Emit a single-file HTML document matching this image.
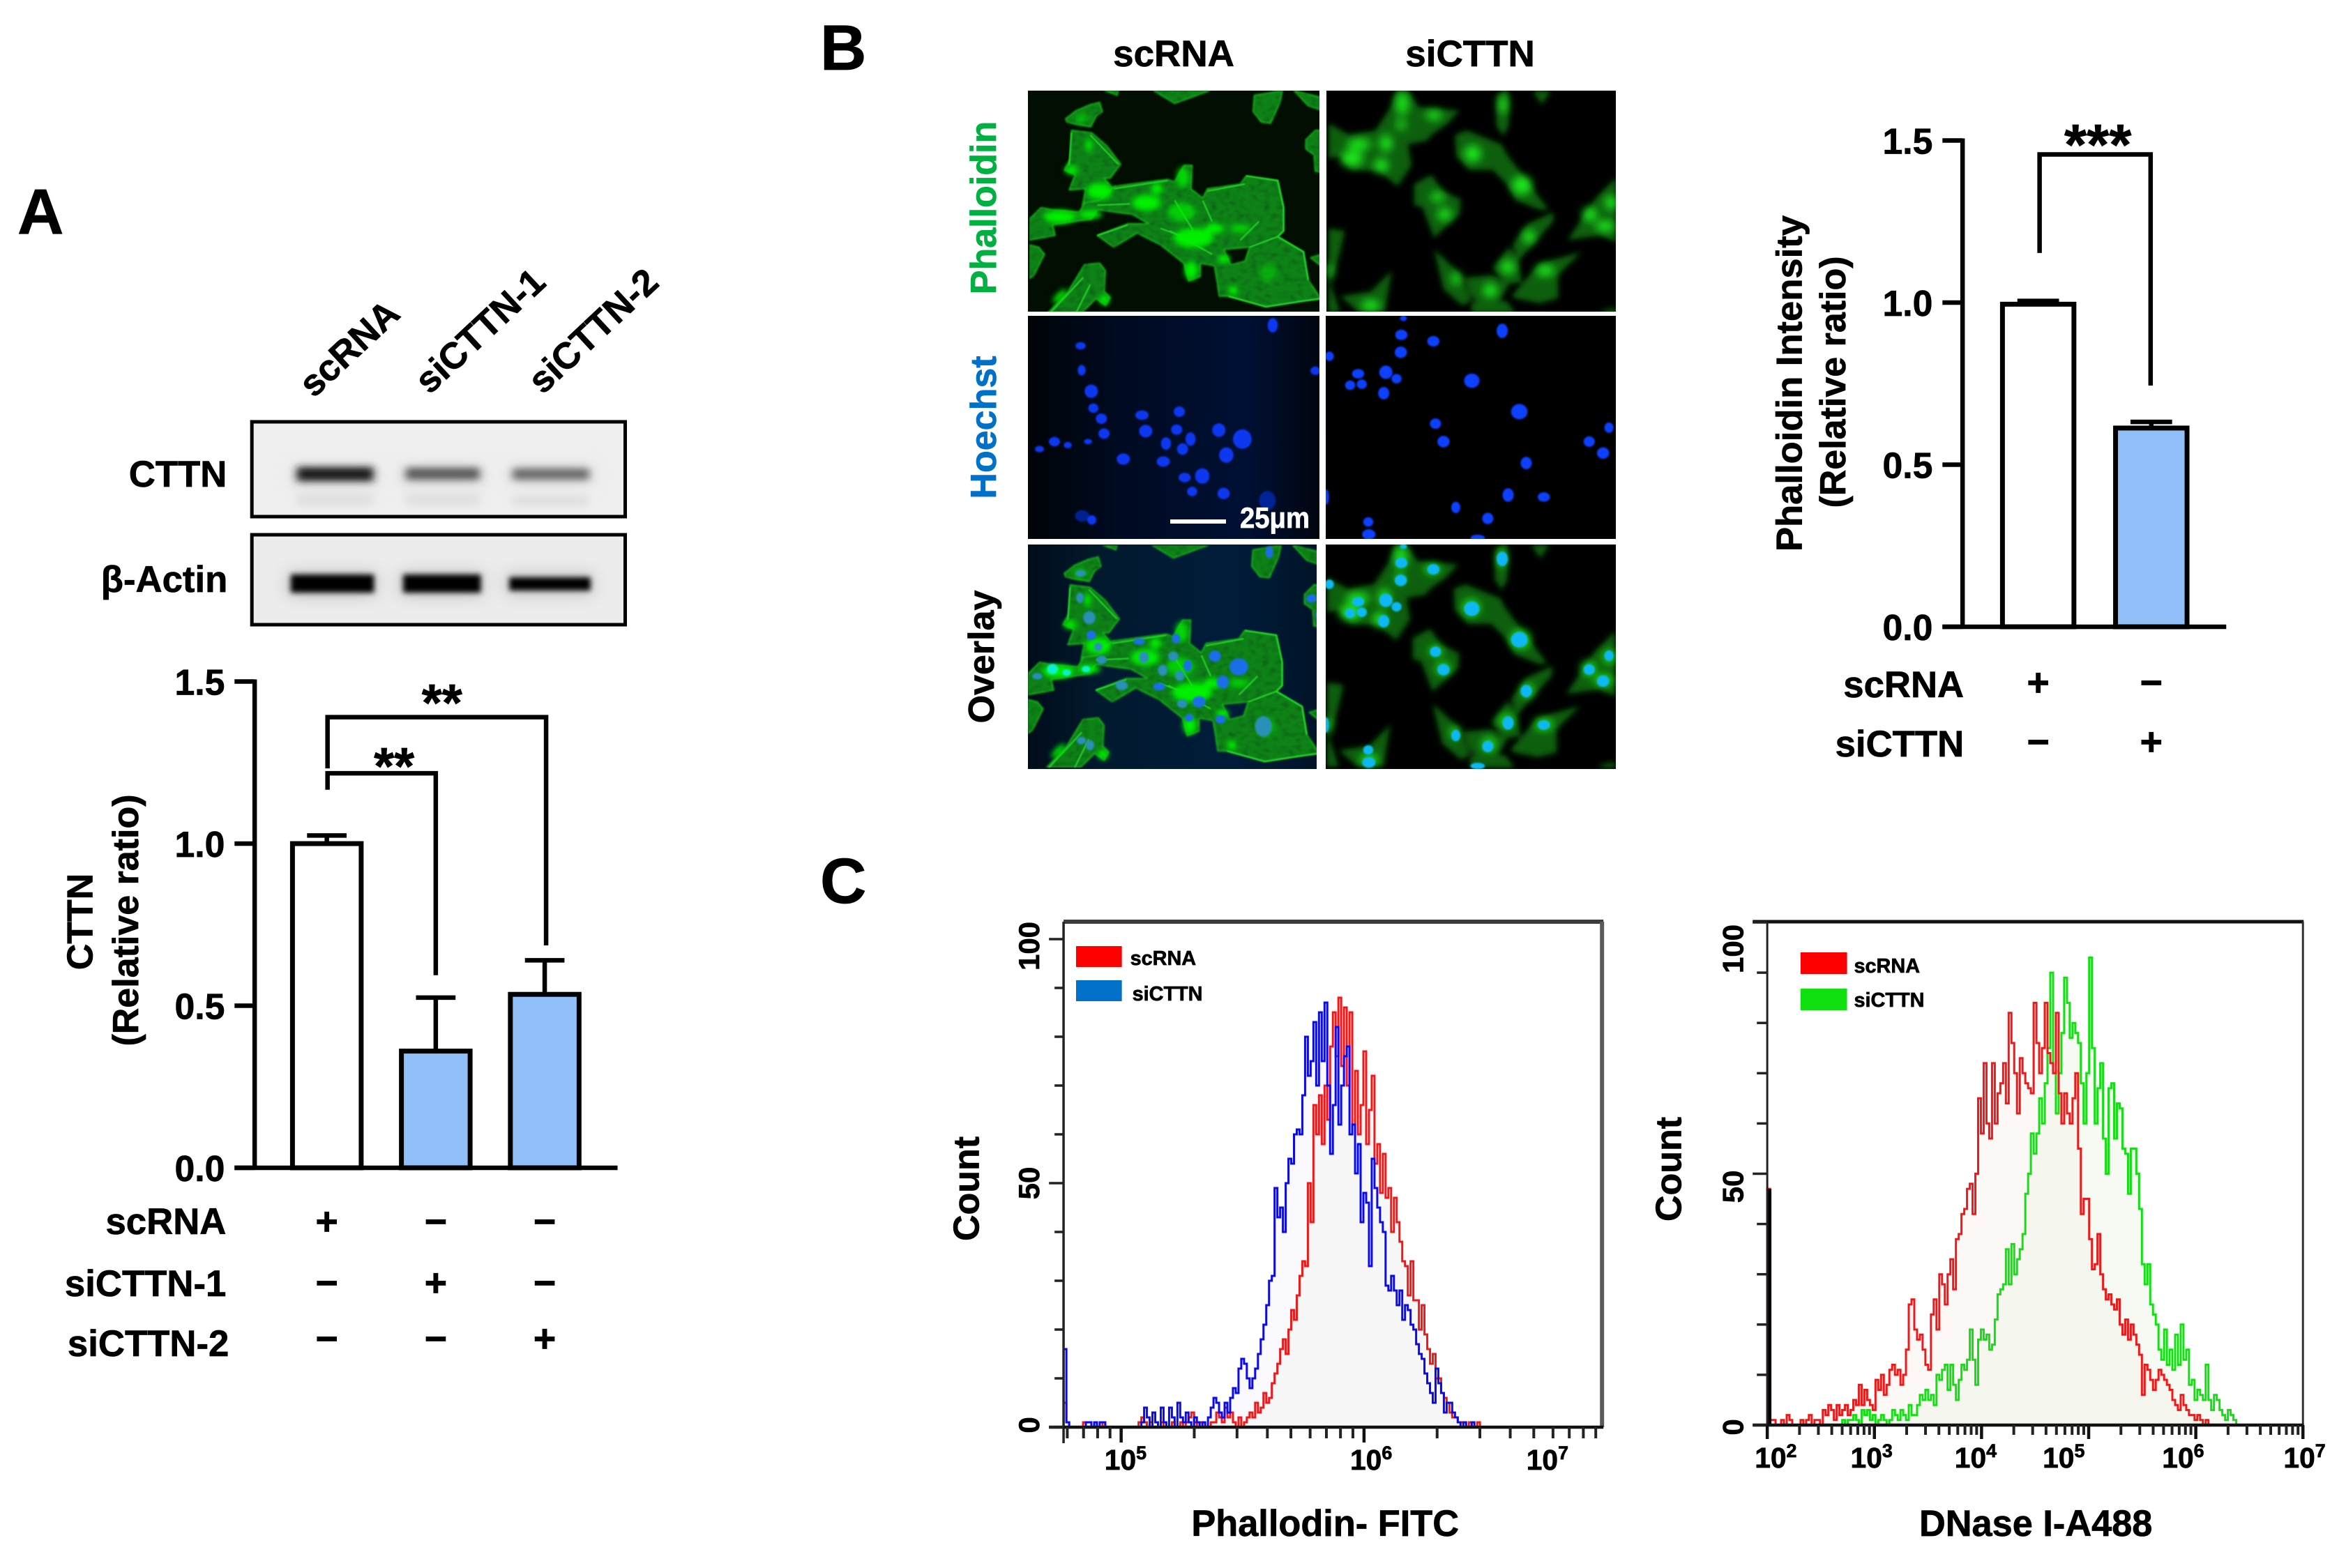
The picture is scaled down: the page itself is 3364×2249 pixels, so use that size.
<!DOCTYPE html>
<html lang="en">
<head>
<meta charset="utf-8">
<title>CTTN knockdown figure</title>
<style>
html,body{margin:0;padding:0;background:#fff;width:3364px;height:2249px;overflow:hidden}
svg{display:block}
text{font-family:"Liberation Sans",sans-serif;font-weight:bold;fill:#000;stroke:#000;stroke-width:.7px}
</style>
</head>
<body>
<svg id="figure" xmlns="http://www.w3.org/2000/svg" width="3364" height="2249" viewBox="0 0 3364 2249">
<defs>
  <filter id="blur-band-a" x="-20%" y="-120%" width="140%" height="340%"><feGaussianBlur stdDeviation="6 5"/></filter>
  <filter id="blur-band-b" x="-20%" y="-120%" width="140%" height="340%"><feGaussianBlur stdDeviation="4 4"/></filter>
  <filter id="blur-halo" x="-20%" y="-120%" width="140%" height="340%"><feGaussianBlur stdDeviation="12 12"/></filter>
  <filter id="blur-soft" x="-30%" y="-30%" width="160%" height="160%"><feGaussianBlur stdDeviation="12"/></filter>
  <filter id="blur-base" x="-10%" y="-10%" width="120%" height="120%"><feGaussianBlur stdDeviation="12"/></filter>
  <filter id="blur-glow" x="-30%" y="-30%" width="160%" height="160%"><feGaussianBlur stdDeviation="19"/></filter>
  <filter id="blur-line" x="-10%" y="-10%" width="120%" height="120%"><feGaussianBlur stdDeviation="2.2"/></filter>
  <filter id="blur-nuc" x="-30%" y="-30%" width="160%" height="160%"><feGaussianBlur stdDeviation="1.4"/></filter>
  <filter id="blur-nuc-large" x="-30%" y="-30%" width="160%" height="160%"><feGaussianBlur stdDeviation="4"/></filter>
  <filter id="cell-texture" x="0" y="0" width="100%" height="100%">
    <feTurbulence type="fractalNoise" baseFrequency="0.035 0.055" numOctaves="3" seed="9" result="n"/>
    <feColorMatrix in="n" type="matrix" values="0 0 0 0 1  0 1.7 0 0 0.05  0 0 0 0 1  0 0 0 0 1" result="g"/>
    <feComposite in="SourceGraphic" in2="g" operator="arithmetic" k1="1.0" k2="0.45" k3="0" k4="0"/>
    <feGaussianBlur stdDeviation="4"/>
  </filter>
  <linearGradient id="hoechst-bg" x1="0" x2="1" y1="0" y2="0">
    <stop offset="0" stop-color="#000408"/><stop offset=".3" stop-color="#000a20"/><stop offset=".75" stop-color="#001034"/><stop offset="1" stop-color="#00050f"/>
  </linearGradient>
  <linearGradient id="overlay-bg" x1="0" x2="1" y1="0" y2="0">
    <stop offset="0" stop-color="#000c1a"/><stop offset=".25" stop-color="#021a2e"/><stop offset=".7" stop-color="#001c3a"/><stop offset="1" stop-color="#001428"/>
  </linearGradient>
  <clipPath id="clip-r1c1"><rect x="1474" y="130" width="418" height="317"/></clipPath>
  <clipPath id="clip-r1c2"><rect x="1902" y="130" width="415" height="317"/></clipPath>
  <clipPath id="clip-r2c1"><rect x="1474" y="453" width="418" height="320"/></clipPath>
  <clipPath id="clip-r2c2"><rect x="1901" y="453" width="416" height="320"/></clipPath>
  <clipPath id="clip-r3c1"><rect x="1474" y="781" width="414" height="322"/></clipPath>
  <clipPath id="clip-r3c2"><rect x="1901" y="781" width="416" height="322"/></clipPath>

  <g id="cells-scrna">
    <g fill="#0a6e0e" fill-rule="evenodd" stroke="#14a018" stroke-width="5" stroke-linejoin="round" filter="url(#cell-texture)">
      <path d="M155 120 L200 85 L260 60 L300 50 L312 90 L285 110 L262 155 L200 145 L160 135Z"/>
      <path d="M180 170 L265 180 L330 235 L390 315 L345 375 L320 375 L365 430 L300 470 L225 500 L240 420 L170 425 L195 360 L150 340 L175 290Z"/>
      <path d="M0 550 L50 500 L100 510 L215 520 L235 480 L300 470 L360 410 L590 380 L620 390 L660 320 L695 320 L690 420 L740 460 L760 420 L900 400 L925 365 L1060 385 L1085 500 L1085 600 L1060 625 L1170 690 L1190 810 L1245 890 L1170 900 L1010 925 L850 880 L810 880 L800 810 L790 750 L730 740 L730 795 L680 815 L660 740 L560 660 L460 610 L360 670 L290 620 L420 570 L510 570 L440 530 L290 510 L265 550 L160 565 L100 575 L110 620 L0 640Z M830 680 L940 670 L920 730 L860 745Z"/>
      <path d="M80 950 L165 860 L235 745 L300 738 L325 770 L320 860 L345 885 L325 920 L285 890 L225 950Z"/>
      <path d="M0 660 L40 670 L65 700 L20 790 L0 805Z"/>
      <path d="M960 20 L1080 0 L1070 50 L1030 140 L990 135 L955 90Z"/>
      <path d="M1180 210 L1220 170 L1250 170 L1250 350 L1220 345 L1215 275 L1180 250Z"/>
      <path d="M1130 0 L1250 30 L1250 85 L1190 65Z"/>
      <path d="M530 0 L770 0 L620 55Z"/>
      <path d="M320 0 L380 0 L375 20Z"/>
      <path d="M1200 715 L1250 700 L1250 755Z"/>
    </g>
    <g fill="none" stroke="#28d42c" stroke-width="6" filter="url(#blur-line)">
      <path d="M360 420 L590 385"/><path d="M290 490 L430 485"/><path d="M560 590 L700 640"/>
      <path d="M925 365 L1060 385 L1085 500 L1085 600 L1060 625 L1170 690 L1190 810"/>
      <path d="M850 880 L1010 925 L1170 900 L1245 890"/><path d="M90 950 L230 800"/>
      <path d="M200 950 L260 830"/><path d="M420 575 L290 620"/><path d="M760 430 L920 400"/>
      <path d="M940 670 L1060 625"/><path d="M600 600 L780 700"/>
      <path d="M620 470 L700 600"/><path d="M740 470 L780 560"/><path d="M900 640 L980 560"/>
      <path d="M180 180 L170 320"/><path d="M260 190 L380 315"/>
    </g>
    <g fill="#00f000" filter="url(#blur-soft)">
      <ellipse cx="130" cy="540" rx="70" ry="28"/>
      <ellipse cx="260" cy="530" rx="50" ry="18"/>
      <ellipse cx="255" cy="235" rx="14" ry="28"/>
      <ellipse cx="300" cy="430" rx="55" ry="36"/>
      <ellipse cx="500" cy="480" rx="60" ry="34"/>
      <ellipse cx="545" cy="420" rx="24" ry="24"/>
      <ellipse cx="700" cy="630" rx="85" ry="42"/>
      <ellipse cx="790" cy="590" rx="42" ry="22"/>
      <ellipse cx="650" cy="520" rx="60" ry="40" opacity=".7"/>
      <ellipse cx="690" cy="770" rx="28" ry="38"/>
      <ellipse cx="830" cy="720" rx="26" ry="18"/>
      <ellipse cx="870" cy="855" rx="20" ry="20"/>
      <ellipse cx="180" cy="340" rx="28" ry="18"/>
      <ellipse cx="655" cy="370" rx="26" ry="44" opacity=".8"/>
      <ellipse cx="900" cy="590" rx="45" ry="16" opacity=".8"/>
      <ellipse cx="1020" cy="780" rx="36" ry="42" opacity=".4"/>
      <ellipse cx="320" cy="895" rx="22" ry="20"/>
      <ellipse cx="130" cy="880" rx="40" ry="14" transform="rotate(-45 130 880)"/>
      <ellipse cx="225" cy="120" rx="30" ry="22" opacity=".5"/>
    </g>
  </g>

  <g id="cells-sicttn">
    <g fill="#085e0a" filter="url(#blur-base)">
      <path d="M0 140 L90 190 L200 170 L260 80 L290 0 L340 0 L385 70 L560 85 L510 140 L440 190 L420 215 L340 230 L355 320 L295 410 L215 345 L100 340 L50 280 L0 290Z"/>
      <path d="M720 20 L745 0 L770 0 L770 150 L745 195 L715 150Z"/>
      <path d="M540 190 L590 170 L740 230 L760 270 L940 510 L900 510 L800 470 L760 400 L700 340 L600 340 L545 280Z"/>
      <path d="M365 400 L440 360 L490 430 L565 465 L560 530 L450 630 L400 500 L365 490Z"/>
      <path d="M785 660 L850 570 L960 520 L960 560 L880 650 L810 730Z"/>
      <path d="M1020 640 L1140 460 L1230 370 L1230 650 L1160 620Z"/>
      <path d="M700 760 L770 670 L810 720 L825 820 L760 830Z"/>
      <path d="M580 800 L700 790 L770 830 L730 900 L640 910 L600 870Z"/>
      <path d="M780 880 L900 740 L1080 690 L980 790 L980 890 L900 910 L800 890Z"/>
      <path d="M450 680 L560 780 L610 900 L570 920 L490 850Z"/>
      <path d="M610 905 L760 900 L800 955 L610 955Z"/>
      <path d="M50 880 L180 860 L270 770 L240 950 L130 950Z"/>
      <path d="M0 590 L70 600 L50 690 L10 830 L50 950 L0 950Z"/>
      <path d="M870 0 L950 0 L910 60Z"/>
      <path d="M1170 940 L1230 930 L1230 955 L1160 955Z"/>
    </g>
    <g fill="#1ee81e" filter="url(#blur-glow)">
      <ellipse cx="100" cy="290" rx="48" ry="34"/><ellipse cx="245" cy="225" rx="26" ry="36"/><ellipse cx="225" cy="320" rx="30" ry="30"/>
      <ellipse cx="315" cy="55" rx="26" ry="50"/><ellipse cx="310" cy="145" rx="18" ry="24"/><ellipse cx="130" cy="230" rx="50" ry="24"/>
      <ellipse cx="450" cy="105" rx="35" ry="20"/><ellipse cx="745" cy="60" rx="18" ry="40"/><ellipse cx="615" cy="270" rx="36" ry="36"/>
      <ellipse cx="825" cy="405" rx="42" ry="40"/><ellipse cx="465" cy="455" rx="30" ry="20"/><ellipse cx="495" cy="530" rx="30" ry="26"/>
      <ellipse cx="855" cy="625" rx="26" ry="30"/><ellipse cx="1205" cy="480" rx="26" ry="30"/><ellipse cx="1115" cy="530" rx="30" ry="30"/>
      <ellipse cx="1180" cy="580" rx="40" ry="24"/><ellipse cx="925" cy="770" rx="40" ry="24"/><ellipse cx="765" cy="755" rx="30" ry="30"/>
      <ellipse cx="690" cy="855" rx="30" ry="30"/><ellipse cx="545" cy="805" rx="20" ry="26"/><ellipse cx="180" cy="920" rx="40" ry="24"/>
      <ellipse cx="5" cy="770" rx="12" ry="30"/>
    </g>
  </g>

  <g id="nuclei-scrna" fill="currentColor" stroke="currentColor" stroke-width="3" filter="url(#blur-nuc)">
    <ellipse cx="522" cy="693" rx="8" ry="6"/><ellipse cx="524" cy="742" rx="6" ry="9"/><ellipse cx="542" cy="784" rx="11" ry="12"/><ellipse cx="546" cy="818" rx="8" ry="8"/><ellipse cx="561" cy="839" rx="9" ry="9"/><ellipse cx="566" cy="869" rx="9" ry="9"/><ellipse cx="536" cy="885" rx="6" ry="4"/><ellipse cx="498" cy="892" rx="6" ry="5"/><ellipse cx="473" cy="885" rx="9" ry="8"/><ellipse cx="445" cy="900" rx="7" ry="5"/><ellipse cx="637" cy="832" rx="11" ry="8"/><ellipse cx="644" cy="864" rx="11" ry="11"/><ellipse cx="707" cy="825" rx="9" ry="9"/><ellipse cx="702" cy="861" rx="9" ry="9"/><ellipse cx="728" cy="880" rx="8" ry="12"/><ellipse cx="682" cy="889" rx="8" ry="11"/><ellipse cx="713" cy="900" rx="9" ry="10"/><ellipse cx="602" cy="920" rx="11" ry="10"/><ellipse cx="677" cy="925" rx="11" ry="9"/><ellipse cx="781" cy="862" rx="11" ry="12"/><ellipse cx="825" cy="880" rx="16" ry="18"/><ellipse cx="795" cy="912" rx="12" ry="14"/><ellipse cx="717" cy="957" rx="10" ry="8"/><ellipse cx="750" cy="954" rx="12" ry="14"/><ellipse cx="731" cy="985" rx="8" ry="8"/><ellipse cx="790" cy="989" rx="10" ry="10"/><ellipse cx="872" cy="1003" rx="14" ry="18" opacity=".55"/><ellipse cx="525" cy="1034" rx="12" ry="10" opacity=".55"/><ellipse cx="543" cy="1042" rx="7" ry="8"/><ellipse cx="882" cy="652" rx="8" ry="13"/><ellipse cx="962" cy="743" rx="8" ry="7"/>
  </g>
  <g id="nuclei-sicttn" fill="currentColor" stroke="currentColor" stroke-width="3" filter="url(#blur-nuc)">
    <ellipse cx="1127" cy="638" rx="5" ry="4"/><ellipse cx="1123" cy="671" rx="10" ry="9"/><ellipse cx="1183" cy="684" rx="10" ry="9"/><ellipse cx="1312" cy="663" rx="9" ry="13"/><ellipse cx="988" cy="714" rx="7" ry="8"/><ellipse cx="1122" cy="706" rx="10" ry="10"/><ellipse cx="1042" cy="749" rx="10" ry="8"/><ellipse cx="1094" cy="746" rx="11" ry="12"/><ellipse cx="1114" cy="759" rx="8" ry="8"/><ellipse cx="1027" cy="772" rx="8" ry="8"/><ellipse cx="1049" cy="770" rx="8" ry="8"/><ellipse cx="1090" cy="788" rx="9" ry="11"/><ellipse cx="1255" cy="763" rx="13" ry="13"/><ellipse cx="1344" cy="825" rx="14" ry="14"/><ellipse cx="1187" cy="849" rx="9" ry="9"/><ellipse cx="1202" cy="885" rx="10" ry="10"/><ellipse cx="1512" cy="857" rx="7" ry="9"/><ellipse cx="1475" cy="885" rx="9" ry="9"/><ellipse cx="1501" cy="908" rx="10" ry="10"/><ellipse cx="1357" cy="928" rx="9" ry="11"/><ellipse cx="1323" cy="992" rx="9" ry="12"/><ellipse cx="1390" cy="996" rx="10" ry="8"/><ellipse cx="1225" cy="1017" rx="7" ry="10"/><ellipse cx="1285" cy="1039" rx="9" ry="10"/><ellipse cx="1061" cy="1046" rx="8" ry="8"/><ellipse cx="1062" cy="1071" rx="11" ry="9"/><ellipse cx="982" cy="996" rx="4" ry="14"/><ellipse cx="1266" cy="1078" rx="12" ry="5"/>
  </g>
</defs>

<rect width="3364" height="2249" fill="#fff"/>

<!-- PANEL A -->
<text x="25" y="335" font-size="92">A</text>
<g transform="scale(.995 1)">
<g font-size="53">
  <text transform="translate(452 572) rotate(-43)">scRNA</text>
  <text transform="translate(619 567) rotate(-43)">siCTTN-1</text>
  <text transform="translate(782 567) rotate(-43)">siCTTN-2</text>
</g>
<g>
  <rect x="363" y="605" width="538" height="136" fill="#efefef"/>
  <g filter="url(#blur-halo)" fill="#c9c9c9">
    <rect x="425" y="672" width="115" height="22"/><rect x="582" y="672" width="112" height="20"/><rect x="736" y="672" width="115" height="18"/>
  </g>
  <g filter="url(#blur-band-a)" fill="#e0e0e0">
    <rect x="428" y="708" width="110" height="18"/><rect x="584" y="708" width="108" height="18"/><rect x="738" y="710" width="110" height="16"/>
  </g>
  <g filter="url(#blur-band-a)">
    <rect x="428" y="670" width="110" height="20" fill="#1c1c1c"/>
    <rect x="585" y="671" width="106" height="17" fill="#5c5c5c"/>
    <rect x="739" y="672" width="110" height="16" fill="#6a6a6a"/>
  </g>
  <rect x="363" y="605" width="538" height="136" fill="none" stroke="#000" stroke-width="5"/>
</g>
<g>
  <rect x="363" y="767" width="538" height="129" fill="#ececec"/>
  <g filter="url(#blur-halo)" fill="#bdbdbd">
    <rect x="415" y="822" width="127" height="32"/><rect x="577" y="822" width="119" height="32"/><rect x="730" y="824" width="124" height="28"/>
  </g>
  <g filter="url(#blur-band-b)" fill="#000">
    <rect x="419" y="824" width="120" height="26"/><rect x="581" y="824" width="112" height="26"/><rect x="734" y="828" width="117" height="19"/>
  </g>
  <rect x="363" y="767" width="538" height="129" fill="none" stroke="#000" stroke-width="5"/>
</g>
<text x="327" y="698" font-size="53" text-anchor="end">CTTN</text>
<text x="328" y="849" font-size="53" text-anchor="end">β-Actin</text>

<g id="chart-a"></g>
<text transform="translate(133 1322) rotate(-90)" font-size="52" text-anchor="middle">CTTN</text>
<text transform="translate(199 1320) rotate(-90)" font-size="52" text-anchor="middle">(Relative ratio)</text>
<g font-size="53" text-anchor="end">
  <text x="326" y="1770">scRNA</text>
  <text x="326" y="1859">siCTTN-1</text>
  <text x="330" y="1945">siCTTN-2</text>
</g>
</g>

<!-- PANEL B -->
<text x="1176" y="100" font-size="92">B</text>
<text x="1683" y="95" font-size="53" text-anchor="middle">scRNA</text>
<text x="2108" y="95" font-size="53" text-anchor="middle">siCTTN</text>
<text transform="translate(1428 298) rotate(-90)" font-size="52" text-anchor="middle" style="fill:#00b040;stroke:#00b040">Phalloidin</text>
<text transform="translate(1428 613) rotate(-90)" font-size="52" text-anchor="middle" style="fill:#0070c8;stroke:#0070c8">Hoechst</text>
<text transform="translate(1425 942) rotate(-90)" font-size="52" text-anchor="middle">Overlay</text>

<g>
  <g clip-path="url(#clip-r1c1)">
    <rect x="1474" y="130" width="418" height="317" fill="#010e01"/>
    <g transform="translate(1476 130) scale(.336 .3351)"><use href="#cells-scrna"/></g>
  </g>
  <g clip-path="url(#clip-r1c2)">
    <rect x="1902" y="130" width="415" height="317" fill="#000"/>
    <g transform="translate(1905 130) scale(.336 .3351)"><use href="#cells-sicttn"/></g>
  </g>
  <g clip-path="url(#clip-r2c1)">
    <rect x="1474" y="453" width="418" height="320" fill="url(#hoechst-bg)"/>
    <g transform="translate(1150 0) scale(.7653 .7157)"><use href="#nuclei-scrna" style="color:#0a38f0"/></g>
  </g>
  <g clip-path="url(#clip-r2c2)">
    <rect x="1901" y="453" width="416" height="320" fill="#000"/>
    <g transform="translate(1150 0) scale(.7653 .7157)"><use href="#nuclei-sicttn" style="color:#0a40ff"/></g>
  </g>
  <g clip-path="url(#clip-r3c1)">
    <rect x="1474" y="781" width="414" height="322" fill="url(#overlay-bg)"/>
    <g transform="translate(1474 782) scale(.336 .3354)">
      <use href="#cells-scrna"/>
      <g filter="url(#blur-nuc-large)">
        <g fill="#1a6ee8">
          <ellipse cx="632" cy="400" rx="18" ry="20"/><ellipse cx="475" cy="412" rx="24" ry="14"/><ellipse cx="682" cy="515" rx="18" ry="24"/><ellipse cx="560" cy="605" rx="26" ry="16"/><ellipse cx="730" cy="670" rx="28" ry="24"/><ellipse cx="688" cy="738" rx="18" ry="16"/><ellipse cx="822" cy="745" rx="22" ry="18"/><ellipse cx="832" cy="585" rx="26" ry="28"/><ellipse cx="798" cy="475" rx="26" ry="24"/><ellipse cx="900" cy="520" rx="40" ry="36"/><ellipse cx="1030" cy="30" rx="16" ry="26"/><ellipse cx="1210" cy="228" rx="22" ry="18"/><ellipse cx="1238" cy="300" rx="12" ry="20"/><ellipse cx="270" cy="385" rx="20" ry="20"/>
        </g>
        <g fill="#2a90b8">
          <ellipse cx="225" cy="120" rx="22" ry="14"/><ellipse cx="222" cy="225" rx="16" ry="22"/><ellipse cx="262" cy="310" rx="26" ry="28"/><ellipse cx="300" cy="435" rx="18" ry="18"/><ellipse cx="315" cy="490" rx="22" ry="18"/><ellipse cx="40" cy="560" rx="22" ry="14"/><ellipse cx="495" cy="480" rx="22" ry="24"/><ellipse cx="620" cy="475" rx="22" ry="20"/><ellipse cx="575" cy="535" rx="20" ry="24"/><ellipse cx="648" cy="558" rx="20" ry="22"/><ellipse cx="400" cy="600" rx="26" ry="20"/><ellipse cx="658" cy="678" rx="22" ry="18"/><ellipse cx="1005" cy="775" rx="36" ry="44"/><ellipse cx="228" cy="835" rx="20" ry="16"/><ellipse cx="265" cy="855" rx="18" ry="22"/>
        </g>
        <g fill="#10f0d0">
          <ellipse cx="105" cy="530" rx="24" ry="22"/><ellipse cx="165" cy="545" rx="18" ry="14"/><ellipse cx="248" cy="530" rx="18" ry="14"/>
        </g>
      </g>
    </g>
  </g>
  <g clip-path="url(#clip-r3c2)">
    <rect x="1901" y="781" width="416" height="322" fill="#000"/>
    <g transform="translate(1903 781) scale(.336 .3354)"><use href="#cells-sicttn"/></g>
    <g transform="translate(1150 0) scale(.7653 .7157)"><use href="#nuclei-sicttn" y="457" style="color:#10b8f4"/></g>
  </g>
</g>
<rect x="1678" y="745" width="80" height="6" fill="#fff"/>
<text x="1778" y="757" font-size="42" textLength="100" lengthAdjust="spacingAndGlyphs" style="fill:#fff;stroke:#fff">25μm</text>

<g transform="translate(2450 0) scale(.995 1) translate(-2450 0)">
<g id="chart-b"></g>
<text transform="translate(2584 550) rotate(-90)" font-size="52.6" text-anchor="middle">Phalloidin Intensity</text>
<text transform="translate(2647 548) rotate(-90)" font-size="52" text-anchor="middle">(Relative ratio)</text>
<g font-size="53" text-anchor="end">
  <text x="2818" y="1000">scRNA</text>
  <text x="2818" y="1085">siCTTN</text>
</g>
</g>

<!-- PANEL C -->
<text x="1176" y="1295" font-size="92">C</text>

<g transform="translate(1340 0) scale(.995 1) translate(-1340 0)">
<g id="hist-left"></g>
<g font-size="42" text-anchor="middle">
  <text transform="translate(1491 1357) rotate(-90)">100</text>
  <text transform="translate(1491 1697) rotate(-90)">50</text>
  <text transform="translate(1491 2044) rotate(-90)">0</text>
</g>
<g font-size="41">
  <text x="1585" y="2108">10<tspan font-size="27" dy="-15">5</tspan></text>
  <text x="1939" y="2108">10<tspan font-size="27" dy="-15">6</tspan></text>
  <text x="2193" y="2108">10<tspan font-size="27" dy="-15">7</tspan></text>
</g>
<text transform="translate(1404 1705) rotate(-90)" font-size="52" text-anchor="middle">Count</text>
<text x="1903" y="2203" font-size="52.6" text-anchor="middle">Phallodin- FITC</text>
<g>
  <rect x="1544" y="1357" width="66" height="30" fill="#ff0000"/>
  <rect x="1544" y="1406" width="66" height="30" fill="#0070c8"/>
  <text x="1622" y="1384" font-size="29">scRNA</text>
  <text x="1625" y="1435" font-size="29">siCTTN</text>
</g>
</g>

<g transform="translate(2360 0) scale(.995 1) translate(-2360 0)">
<g id="hist-right"></g>
<g font-size="42" text-anchor="middle">
  <text transform="translate(2500 1361) rotate(-90)">100</text>
  <text transform="translate(2500 1702) rotate(-90)">50</text>
  <text transform="translate(2500 2047) rotate(-90)">0</text>
</g>
<g font-size="41">
  <text x="2517" y="2105">10<tspan font-size="27" dy="-15">2</tspan></text>
  <text x="2655" y="2105">10<tspan font-size="27" dy="-15">3</tspan></text>
  <text x="2805" y="2105">10<tspan font-size="27" dy="-15">4</tspan></text>
  <text x="2932" y="2105">10<tspan font-size="27" dy="-15">5</tspan></text>
  <text x="3104" y="2105">10<tspan font-size="27" dy="-15">6</tspan></text>
  <text x="3279" y="2105">10<tspan font-size="27" dy="-15">7</tspan></text>
</g>
<text transform="translate(2411 1677) rotate(-90)" font-size="52" text-anchor="middle">Count</text>
<text x="2922" y="2203" font-size="52.6" text-anchor="middle">DNase I-A488</text>
<g>
  <rect x="2583" y="1366" width="67" height="31" fill="#ff0000"/>
  <rect x="2583" y="1418" width="67" height="31" fill="#10e010"/>
  <text x="2660" y="1395" font-size="29">scRNA</text>
  <text x="2660" y="1444" font-size="29">siCTTN</text>
</g>
</g>

<script>
// ---- Panel A bar chart data ----
const aCategories = ['scRNA', 'siCTTN-1', 'siCTTN-2'];
const aMeans = [1.0, 0.36, 0.535];
const aErrorTops = [1.025, 0.525, 0.64];
const aFills = ['#ffffff', '#90bff9', '#90bff9'];
const aTickValues = [0, 0.5, 1, 1.5];
const aTickLabels = ['0.0', '0.5', '1.0', '1.5'];
const aSigns = [['+', '−', '−'], ['−', '+', '−'], ['−', '−', '+']];

// ---- Panel B bar chart data ----
const bCategories = ['scRNA', 'siCTTN'];
const bMeans = [0.995, 0.613];
const bErrorTops = [1.005, 0.632];
const bFills = ['#ffffff', '#90bff9'];
const bTickValues = [0, 0.5, 1, 1.5];
const bTickLabels = ['0.0', '0.5', '1.0', '1.5'];
const bSigns = [['+', '−'], ['−', '+']];

// ---- Panel C histogram counts (per fluorescence bin) ----
const fitcRedCounts = [5,1,0,0,0,0,0,1,0,0,0,1,0,0,1,0,0,0,0,0,0,0,0,0,0,0,0,
1,2,1,0,1,0,0,0,1,0,0,0,1,0,0,1,0,1,2,3,1,0,1,1,0,0,1,1,3,2,1,4,2,3,1,0,2,0,1,2,3,2,5,3,
4,7,5,6,9,11,13,16,18,15,20,24,22,27,31,34,33,50,42,66,60,68,58,70,63,78,85,76,88,74,86,70,85,62,73,60,66,77,58,65,72,54,58,48,56,47,49,40,47,42,38,34,33,27,34,26,26,20,25,19,16,13,15,10,10,7,6,5,3,2,2,1,1,1,0,1,0,0,1,0];
const fitcBlueCounts = [16,1,0,0,0,0,0,0,1,1,0,1,0,1,1,0,0,0,0,0,0,0,0,0,0,0,0,0,1,
4,2,0,3,1,0,4,1,0,4,2,0,5,2,1,3,1,0,2,1,0,1,0,
2,4,6,5,3,2,5,3,6,8,7,12,
14,13,10,8,10,12,15,18,21,25,30,31,49,43,45,40,50,55,54,60,61,60,68,80,72,75,83,70,85,75,87,70,56,66,82,62,70,76,78,60,62,52,58,42,48,46,33,55,49,45,42,40,29,28,31,28,25,28,22,25,24,21,20,17,15,14,11,9,7,5,12,9,7,3,5,5,3,2,1,0,1,0,0,1,0];
const dnaseRedCounts = [47,1,1,0,0,1,0,2,1,0,0,0,1,0,1,2,0,1,1,0,
3,2,4,3,1,4,2,3,4,2,3,5,4,8,4,7,5,4,3,9,7,10,6,8,11,12,10,11,8,10,15,24,25,19,17,18,15,12,11,22,25,19,30,28,24,30,33,27,37,38,42,43,47,48,42,50,65,58,72,60,57,72,60,66,68,72,64,82,76,70,62,73,70,68,67,66,84,76,70,75,84,74,72,70,82,66,60,66,62,60,65,70,55,42,45,45,37,31,32,38,30,27,25,26,24,23,25,20,18,21,17,20,18,16,14,6,12,11,9,7,9,11,10,9,8,7,5,4,3,6,4,3,2,2,1,2,1,0,1];
const dnaseGreenCounts = [0,0,0,0,0,0,0,0,0,0,0,0,0,0,0,0,0,0,0,0,0,0,0,0,0,0,0,
1,0,1,1,2,1,0,3,2,3,1,2,0,1,2,1,0,1,3,2,1,3,2,1,4,2,
2,4,6,5,7,5,6,4,10,9,11,12,7,12,8,5,9,12,11,13,19,13,8,17,19,17,18,15,16,21,26,27,28,35,28,36,30,33,35,38,46,50,58,54,58,65,60,68,75,90,70,62,70,78,89,84,77,80,78,76,68,60,70,93,75,60,67,72,57,50,67,68,57,64,63,55,54,46,55,55,50,43,32,28,32,24,22,20,15,13,19,12,15,11,18,12,20,13,15,8,9,5,7,6,5,12,5,3,6,5,3,2,1,3,2,1,0];
const leftDecades = [5, 6, 7];
const rightDecades = [2, 3, 4, 5, 6, 7];
const minorMultipliers = [2, 3, 4, 5, 6, 7, 8, 9];
const countTicks = [0, 10, 20, 30, 40, 50, 60, 70, 80, 90, 100];

const NS = 'http://www.w3.org/2000/svg';
function make(tag, parent, attrs) {
  const el = document.createElementNS(NS, tag);
  for (const k in attrs) el.setAttribute(k, attrs[k]);
  parent.appendChild(el);
  return el;
}

// ---- Axis functions ----
const yA = v => 1675 - v * 465;
const xA = i => 471 + i * 157;
const yB = v => 899 - v * 465;
const xB = i => 2925 + i * 163;
const xLeft = lg => 1609 + (lg - 5) * 350;
const yLeft = c => 2047 - c * 7.0;
const xRight = lg => 2535 + (lg - 2) * 154.4;
const yRight = c => 2044 - c * 7.21;

function drawBars(root, opts) {
  const y = opts.y, x = opts.x;
  opts.ticks.forEach((t, i) => {
    const tick = make('line', root, {x1: opts.axisX - 29, x2: opts.axisX, y1: y(t), y2: y(t), stroke: '#000', 'stroke-width': 6.5});
    
    
    const lab = make('text', root, {x: opts.axisX - 43, y: y(t) + 19, 'font-size': 52, 'text-anchor': 'end'});
    lab.textContent = opts.tickLabels[i];
    
    
  });
  const ya = make('line', root, {x1: opts.axisX, x2: opts.axisX, y1: y(opts.ticks[opts.ticks.length - 1]) - 3, y2: y(0), stroke: '#000', 'stroke-width': 6.5});
  
  
  opts.means.forEach((m, i) => {
    const cx = x(i);
    const stem = make('line', root, {x1: cx, x2: cx, y1: y(m), y2: y(opts.errors[i]), stroke: '#000', 'stroke-width': 6.5});
    
    
    const cap = make('line', root, {x1: cx - opts.capW / 2, x2: cx + opts.capW / 2, y1: y(opts.errors[i]), y2: y(opts.errors[i]), stroke: '#000', 'stroke-width': 6.5});
    
    
    const bar = make('rect', root, {x: cx - opts.barW / 2, y: y(m), width: opts.barW, height: y(0) - y(m), fill: opts.fills[i], stroke: '#000', 'stroke-width': 7});
    
    
  });
  const xa = make('line', root, {x1: opts.axisX - 29, x2: opts.xEnd, y1: y(0), y2: y(0), stroke: '#000', 'stroke-width': 6.5});
  
  
  opts.signs.forEach((row, r) => row.forEach((s, c) => {
    const t = make('text', root, {x: x(c), y: opts.signY[r] + 18, 'font-size': 56, 'text-anchor': 'middle'});
    t.textContent = s;
    
    
  }));
}

function drawBracket(root, x1, x2, topY, leftY, rightY, sw) {
  const p = make('polyline', root, {points: x1 + ',' + leftY + ' ' + x1 + ',' + topY + ' ' + x2 + ',' + topY + ' ' + x2 + ',' + rightY, fill: 'none', stroke: '#000', 'stroke-width': sw, 'stroke-linejoin': 'miter'});
  
  
}
function drawStars(root, cx, baseline, size, str) {
  const t = make('text', root, {x: cx, y: baseline, 'font-size': size, 'text-anchor': 'middle'});
  t.textContent = str;
  
  
}

// Panel A chart
const chartA = document.getElementById('chart-a');
drawBars(chartA, {y: yA, x: xA, axisX: 367, xEnd: 890, ticks: aTickValues, tickLabels: aTickLabels, means: aMeans, errors: aErrorTops, fills: aFills, categories: aCategories, capW: 57, barW: 99, signs: aSigns, signY: [1753, 1841, 1921]});
drawBracket(chartA, xA(0) + 1, xA(2) + 2, yA(1.39), yA(1.232), yA(0.686), 6.5);
drawBracket(chartA, xA(0) + 1, xA(1), yA(1.217), yA(1.166), yA(0.594), 6.5);
drawStars(chartA, 637, 1034, 75, '**');
drawStars(chartA, 568, 1125, 75, '**');

// Panel B chart
const chartB = document.getElementById('chart-b');
drawBars(chartB, {y: yB, x: xB, axisX: 2816, xEnd: 3196, ticks: bTickValues, tickLabels: bTickLabels, means: bMeans, errors: bErrorTops, fills: bFills, categories: bCategories, capW: 60, barW: 103, signs: bSigns, signY: [980, 1065]});
drawBracket(chartB, xB(0) + 2, xB(1) - 1, yB(1.457), yB(1.153), yB(0.744), 6.5);
drawStars(chartB, 3011, 236, 83, '***');

// Histogram helpers
function stairPath(counts, x, y, startLog, stepLog, close) {
  let d = 'M' + x(startLog).toFixed(1) + ' ' + y(0).toFixed(1);
  counts.forEach((c, i) => {
    const xa = x(startLog + i * stepLog), xb = x(startLog + (i + 1) * stepLog);
    d += ' L' + xa.toFixed(1) + ' ' + y(c).toFixed(1) + ' L' + xb.toFixed(1) + ' ' + y(c).toFixed(1);
  });
  d += ' L' + x(startLog + counts.length * stepLog).toFixed(1) + ' ' + y(0).toFixed(1);
  if (close) d += 'Z';
  return d;
}
function drawArea(root, counts, x, y, startLog, stepLog, fill, name) {
  const a = make('path', root, {d: stairPath(counts, x, y, startLog, stepLog, true), fill: fill, stroke: 'none'});
  
  
}
function drawLine(root, counts, x, y, startLog, stepLog, color, name) {
  const l = make('path', root, {d: stairPath(counts, x, y, startLog, stepLog, false), fill: 'none', stroke: color, 'stroke-width': 3});
  
  
}
function drawLogTicks(root, x, baseY, decades, lenMajor, lenMinor, minX, maxX) {
  const allDecades = [decades[0] - 1].concat(decades);
  allDecades.forEach(d => {
    if (decades.indexOf(d) >= 0 && x(d) >= minX - 1 && x(d) <= maxX + 1) {
      const mj = make('line', root, {x1: x(d), x2: x(d), y1: baseY, y2: baseY + lenMajor, stroke: '#111', 'stroke-width': 4.5});
      
      
    }
    minorMultipliers.forEach(m => {
      const px = x(d + Math.log10(m));
      if (px < minX - 1 || px > maxX + 1) return;
      const mn = make('line', root, {x1: px, x2: px, y1: baseY, y2: baseY + lenMinor, stroke: '#222', 'stroke-width': 4});
      
      
    });
  });
}

// Left histogram
const histL = document.getElementById('hist-left');
drawArea(histL, fitcBlueCounts, xLeft, yLeft, 4.763, 0.01143, '#f9f9fe', 'sicttn-series');
drawArea(histL, fitcRedCounts, xLeft, yLeft, 4.763, 0.01143, '#f7f7f7', 'scrna-series');
drawLine(histL, fitcRedCounts, xLeft, yLeft, 4.763, 0.01143, '#f01818', 'scrna-series');
drawLine(histL, fitcBlueCounts, xLeft, yLeft, 4.763, 0.01143, '#0a0af0', 'sicttn-series');
const topL = make('line', histL, {x1: 1526, x2: 2304, y1: 1322, y2: 1322, stroke: '#3c3c3c', 'stroke-width': 6});


const rightL = make('line', histL, {x1: 2302, x2: 2302, y1: 1322, y2: 2047, stroke: '#5a5a5a', 'stroke-width': 6});


const leftL = make('line', histL, {x1: 1526, x2: 1526, y1: 1322, y2: 2070, stroke: '#222', 'stroke-width': 3.5});


const bottomL = make('line', histL, {x1: 1505, x2: 2304, y1: yLeft(0), y2: yLeft(0), stroke: '#111', 'stroke-width': 4.5});


countTicks.forEach(c => {
  const major = c % 50 === 0;
  const t = make('line', histL, {x1: major ? 1505 : 1513, x2: 1526, y1: yLeft(c), y2: yLeft(c), stroke: '#222', 'stroke-width': 3.5});
  
  
});
drawLogTicks(histL, xLeft, yLeft(0), leftDecades, 22, 16, 1526, 2302);

// Right histogram
const histR = document.getElementById('hist-right');
drawArea(histR, dnaseRedCounts, xRight, yRight, 2, 0.0259, '#fbf8f6', 'scrna-series');
drawArea(histR, dnaseGreenCounts, xRight, yRight, 2, 0.0259, 'rgba(240,246,232,.55)', 'sicttn-series');
drawLine(histR, dnaseGreenCounts, xRight, yRight, 2, 0.0259, '#12e012', 'sicttn-series');
drawLine(histR, dnaseRedCounts, xRight, yRight, 2, 0.0259, '#f01818', 'scrna-series');
const spike = make('line', histR, {x1: xRight(2) + 3, x2: xRight(2) + 3, y1: yRight(dnaseRedCounts[0]), y2: yRight(0), stroke: '#000', 'stroke-width': 6});


const topR = make('line', histR, {x1: 2514, x2: 3308, y1: 1322, y2: 1322, stroke: '#111', 'stroke-width': 5});


const rightR = make('line', histR, {x1: 3307, x2: 3307, y1: 1322, y2: 2064, stroke: '#333', 'stroke-width': 3});


const leftR = make('line', histR, {x1: 2535, x2: 2535, y1: 1322, y2: 2064, stroke: '#222', 'stroke-width': 3});


const bottomR = make('line', histR, {x1: 2514, x2: 3308, y1: yRight(0), y2: yRight(0), stroke: '#111', 'stroke-width': 4.5});


countTicks.forEach(c => {
  const major = c % 50 === 0;
  const t = make('line', histR, {x1: major ? 2514 : 2520, x2: 2535, y1: yRight(c), y2: yRight(c), stroke: '#222', 'stroke-width': 3.5});
  
  
});
drawLogTicks(histR, xRight, yRight(0), rightDecades, 20, 14, 2535, 3307);
</script>
</svg>
</body>
</html>
